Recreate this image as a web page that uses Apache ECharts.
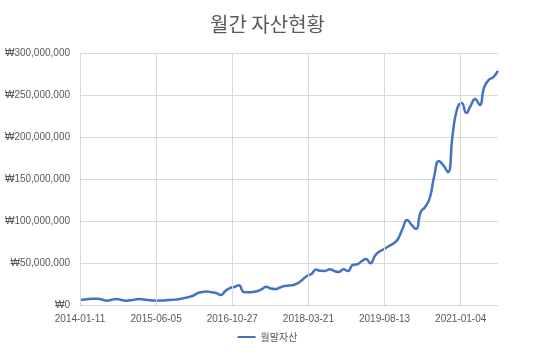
<!DOCTYPE html>
<html>
<head>
<meta charset="utf-8">
<script src="https://cdn.jsdelivr.net/npm/echarts@6/dist/echarts.min.js"></script>
<style>
  html, body { margin: 0; padding: 0; background: #fff; }
  #monthly-asset-chart { width: 535px; height: 355px; }
</style>
</head>
<body>
<div id="monthly-asset-chart"></div>
<script>
// 월말 날짜 (매월 11일 기준)
const dates = [
  '2014-01-11','2014-02-11','2014-03-11','2014-04-11','2014-05-11','2014-06-11','2014-07-11','2014-08-11','2014-09-11','2014-10-11','2014-11-11','2014-12-11',
  '2015-01-11','2015-02-11','2015-03-11','2015-04-11','2015-05-11','2015-06-11','2015-07-11','2015-08-11','2015-09-11','2015-10-11','2015-11-11','2015-12-11',
  '2016-01-11','2016-02-11','2016-03-11','2016-04-11','2016-05-11','2016-06-11','2016-07-11','2016-08-11','2016-09-11','2016-10-11','2016-11-11','2016-12-11',
  '2017-01-11','2017-02-11','2017-03-11','2017-04-11','2017-05-11','2017-06-11','2017-07-11','2017-08-11','2017-09-11','2017-10-11','2017-11-11','2017-12-11',
  '2018-01-11','2018-02-11','2018-03-11','2018-04-11','2018-05-11','2018-06-11','2018-07-11','2018-08-11','2018-09-11','2018-10-11','2018-11-11','2018-12-11',
  '2019-01-11','2019-02-11','2019-03-11','2019-04-11','2019-05-11','2019-06-11','2019-07-11','2019-08-11','2019-09-11','2019-10-11','2019-11-11','2019-12-11',
  '2020-01-11','2020-02-11','2020-03-11','2020-04-11','2020-05-11','2020-06-11','2020-07-11','2020-08-11','2020-09-11','2020-10-11','2020-11-11','2020-12-11',
  '2021-01-11','2021-02-11','2021-03-11','2021-04-11','2021-05-11','2021-06-11','2021-07-11','2021-08-11','2021-09-11'
];

// 월말자산 (원)
const assets = [
  6000000, 6500000, 7100000, 7400000, 7500000, 6200000, 5200000, 6200000, 7100000, 6200000, 5100000, 5600000,
  6400000, 7100000, 6500000, 6000000, 5500000, 5100000, 5400000, 5600000, 6000000, 6400000, 7100000, 8300000,
  9500000, 11300000, 14300000, 15500000, 16100000, 15100000, 14300000, 11900000, 16700000, 20200000, 21500000, 23500000,
  15500000, 15100000, 15500000, 16300000, 18500000, 21700000, 19600000, 19000000, 20800000, 22600000, 23200000, 23800000,
  26200000, 30400000, 34500000, 36900000, 42300000, 40700000, 40600000, 42500000, 40500000, 39300000, 42600000, 40500000,
  47600000, 48500000, 51800000, 54800000, 49600000, 58900000, 63700000, 66700000, 70200000, 73200000, 78600000, 90500000,
  101200000, 95200000, 90500000, 110700000, 116700000, 127400000, 153600000, 171400000, 166000000, 158000000, 202400000, 233300000,
  240500000, 228600000, 236900000, 245200000, 238100000, 259500000, 267900000, 271400000, 278600000
];

// x축 눈금 간격 (일)
const tickDays = 510;
const xTicks = [0, 510, 1020, 1530, 2040, 2550];

const DAY = 86400000;
const start = Date.UTC(2014, 0, 11);
const toDays = s => {
  const p = s.split('-').map(Number);
  return Math.round((Date.UTC(p[0], p[1] - 1, p[2]) - start) / DAY);
};
const fmtDate = d => {
  const t = new Date(start + d * DAY);
  const mm = String(t.getUTCMonth() + 1).padStart(2, '0');
  const dd = String(t.getUTCDate()).padStart(2, '0');
  return t.getUTCFullYear() + '-' + mm + '-' + dd;
};
const fmtWon = v => '₩' + String(v).replace(/\B(?=(\d{3})+(?!\d))/g, ',');

const points = dates.map((d, i) => [toDays(d), assets[i]]);
const lastDay = points[points.length - 1][0];

const labelFont = "'Liberation Sans', 'Noto Sans CJK KR', sans-serif";
const chart = echarts.init(document.getElementById('monthly-asset-chart'));
chart.setOption({
  animation: false,
  title: {
    text: '월간 자산현황',
    left: 'center',
    top: 9,
    textStyle: { fontFamily: "'Noto Sans CJK KR', sans-serif", fontSize: 20, fontWeight: 'normal', color: '#595959' }
  },
  legend: {
    bottom: 8,
    left: 'center',
    icon: 'rect',
    itemWidth: 18,
    itemHeight: 2,
    itemGap: 10,
    textStyle: { fontFamily: "'Noto Sans CJK KR', sans-serif", fontSize: 10, color: '#595959' },
    data: ['월말자산']
  },
  grid: { left: 80, right: 37, top: 53, bottom: 50 },
  xAxis: {
    type: 'value',
    min: 0,
    max: lastDay,
    interval: tickDays,
    axisLine: { lineStyle: { color: '#D9D9D9', width: 1 } },
    axisTick: { show: false },
    splitLine: { show: false },
    axisLabel: {
      color: '#595959',
      fontSize: 10,
      fontFamily: labelFont,
      margin: 9,
      formatter: v => (v % tickDays === 0 ? fmtDate(v) : '')
    }
  },
  yAxis: {
    type: 'value',
    min: 0,
    max: 300000000,
    interval: 50000000,
    axisLine: { show: false },
    axisTick: { show: false },
    splitLine: { lineStyle: { color: '#D9D9D9', width: 1 } },
    axisLabel: {
      color: '#595959',
      fontSize: 10,
      fontFamily: labelFont,
      margin: 10,
      formatter: fmtWon
    }
  },
  series: [{
    name: '월말자산',
    type: 'line',
    data: points,
    smooth: true,
    symbol: 'none',
    lineStyle: { color: '#4472C4', width: 2.5 },
    itemStyle: { color: '#4472C4' },
    markLine: {
      silent: true,
      symbol: 'none',
      label: { show: false },
      lineStyle: { color: '#D9D9D9', width: 1, type: 'solid' },
      data: xTicks.map(x => ({ xAxis: x }))
    },
    z: 3
  }]
});
</script>
</body>
</html>
